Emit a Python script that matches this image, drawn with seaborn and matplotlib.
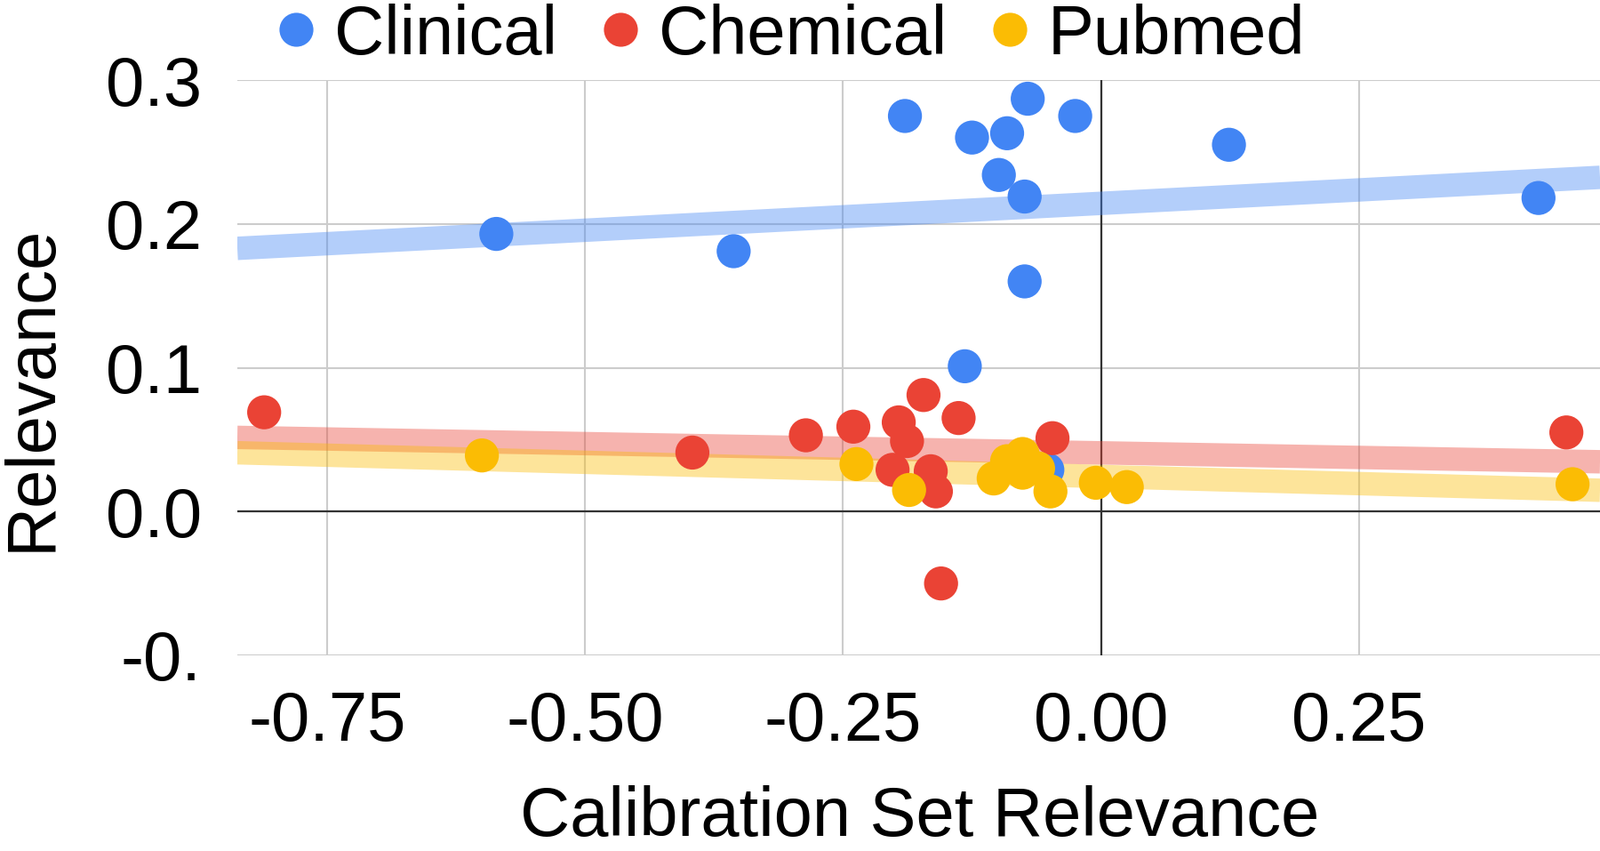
import matplotlib
matplotlib.use("Agg")
import matplotlib.pyplot as plt
from matplotlib.lines import Line2D
import pandas as pd
import seaborn as sns

# --- values ---
clinical_x = [-0.586, -0.356, -0.190, -0.125, -0.091, -0.099, -0.071, -0.074,
              -0.025, -0.074, 0.124, 0.424, -0.132, -0.052]
clinical_y = [0.193, 0.181, 0.275, 0.260, 0.263, 0.234, 0.287, 0.219,
              0.275, 0.160, 0.255, 0.218, 0.101, 0.029]

chemical_x = [-0.811, -0.396, -0.286, -0.240, -0.196, -0.172, -0.138, -0.188,
              -0.202, -0.165, -0.160, -0.047, -0.155, 0.451]
chemical_y = [0.069, 0.041, 0.053, 0.059, 0.062, 0.081, 0.065, 0.049,
              0.029, 0.028, 0.014, 0.051, -0.050, 0.055]

pubmed_x = [-0.600, -0.237, -0.186, -0.104, -0.091, -0.076, -0.076, -0.061,
            -0.049, -0.005, 0.025, 0.457]
pubmed_y = [0.039, 0.033, 0.015, 0.023, 0.035, 0.040, 0.027, 0.030,
            0.014, 0.020, 0.017, 0.019]

series_names = ["Clinical", "Chemical", "Pubmed"]
series_colors = ["#4285F4", "#EA4335", "#FBBC04"]

x_ticks = [-0.75, -0.50, -0.25, 0.00, 0.25]
x_tick_labels = ["-0.75", "-0.50", "-0.25", "0.00", "0.25"]
y_ticks = [-0.1, 0.0, 0.1, 0.2, 0.3]
y_tick_labels = ["-0.", "0.0", "0.1", "0.2", "0.3"]

X_RANGE = (-0.837, 0.4836)
Y_RANGE = (-0.1, 0.3)
FONT_SIZE = 56

# long-form table for seaborn
df = pd.concat([
    pd.DataFrame({"x": clinical_x, "y": clinical_y, "series": "Clinical"}),
    pd.DataFrame({"x": chemical_x, "y": chemical_y, "series": "Chemical"}),
    pd.DataFrame({"x": pubmed_x, "y": pubmed_y, "series": "Pubmed"}),
], ignore_index=True)

sns.set_theme(style="white")
plt.rcParams["font.family"] = ["Liberation Sans", "DejaVu Sans"]
plt.rcParams["text.color"] = "black"

fig = plt.figure(figsize=(18, 9.57), dpi=100)
ax = fig.add_axes([267 / 1800, 1 - 737 / 957, 1533 / 1800, 647 / 957])
ax.set_xlim(*X_RANGE)
ax.set_ylim(*Y_RANGE)

# grid + zero lines sit underneath everything
ax.set_axisbelow(True)
ax.grid(True, color="#cccccc", lw=1.5)
ax.axhline(0, color="#333333", lw=1.6, zorder=1)
ax.axvline(0, color="#333333", lw=1.6, zorder=1)

# linear trend lines, drawn across the full x range
for name, color in zip(series_names, series_colors):
    sub = df[df["series"] == name]
    sns.regplot(data=sub, x="x", y="y", ax=ax, scatter=False, ci=None,
                truncate=False, color=color,
                line_kws=dict(lw=19, alpha=0.4, solid_capstyle="butt", zorder=2))

sns.scatterplot(data=df, x="x", y="y", hue="series", hue_order=series_names,
                palette=series_colors, s=760, linewidth=0, legend=False,
                ax=ax, zorder=3, clip_on=False)

ax.set_xlim(*X_RANGE)
ax.set_ylim(*Y_RANGE)
for spine in ax.spines.values():
    spine.set_visible(False)

ax.set_xticks(x_ticks)
ax.set_xticklabels(x_tick_labels)
ax.set_yticks(y_ticks)
ax.set_yticklabels(y_tick_labels)
ax.tick_params(axis="both", length=0, labelsize=FONT_SIZE, colors="black")
ax.tick_params(axis="y", pad=29)
ax.tick_params(axis="x", pad=28)

ax.set_xlabel("Calibration Set Relevance", fontsize=FONT_SIZE, color="black")
ax.xaxis.label.set_va("baseline")
ax.xaxis.set_label_coords(0.501, -0.314)
ax.set_ylabel("Relevance", fontsize=FONT_SIZE, color="black")
ax.yaxis.label.set_va("baseline")
ax.yaxis.set_label_coords(-0.137, 0.465)

handles = [Line2D([], [], marker="o", ls="none", markersize=27.5,
                  markerfacecolor=c, markeredgewidth=0) for c in series_colors]
fig.legend(handles, series_names, loc="center", bbox_to_anchor=(0.495, 0.958),
           ncol=3, frameon=False, fontsize=FONT_SIZE, handlelength=0.5,
           handletextpad=0.3, columnspacing=0.66, borderpad=0, borderaxespad=0)

fig.savefig("out.png", dpi=100)
